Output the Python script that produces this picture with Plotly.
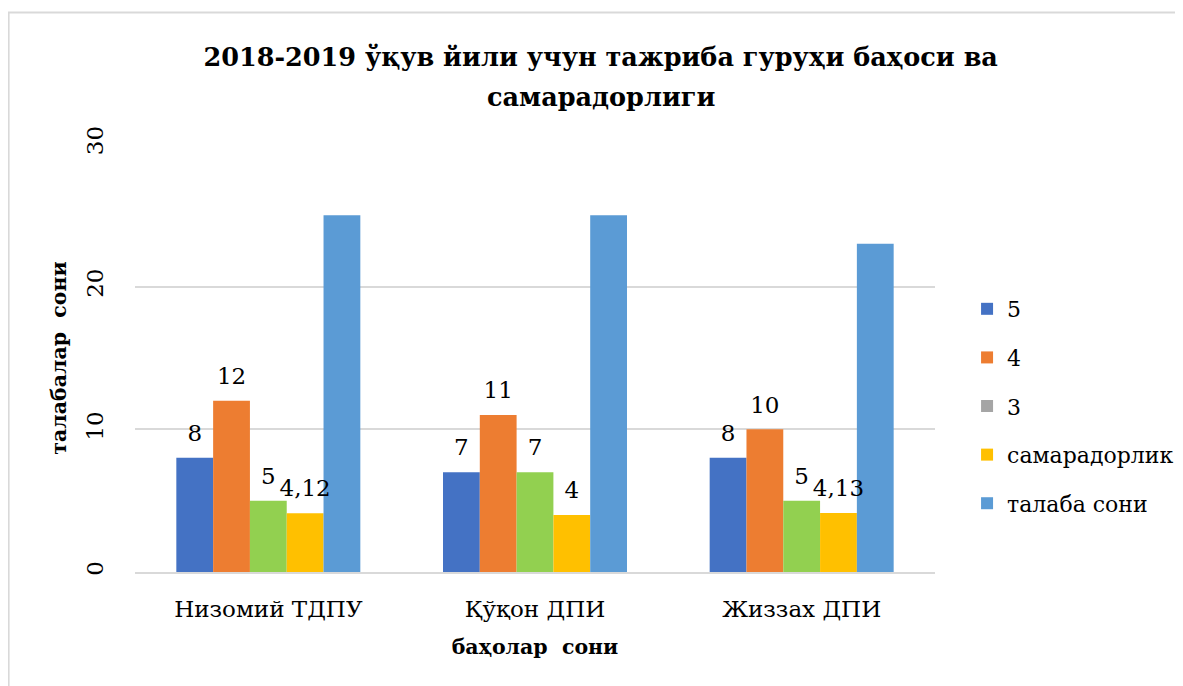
import plotly.graph_objects as go

categories = ["Низомий ТДПУ", "Қўқон ДПИ", "Жиззах ДПИ"]
series_names = ["5", "4", "3", "самарадорлик", "талаба сони"]
s5 = [8, 7, 8]
s4 = [12, 11, 10]
s3 = [5, 7, 5]
samar = [4.12, 4, 4.13]
talaba = [25, 25, 23]
y_ticks = [0, 10, 20, 30]
title_line1 = "2018-2019 ўқув йили учун тажриба гуруҳи баҳоси ва"
title_line2 = "самарадорлиги"

colors = ["#4472C4", "#ED7D31", "#92D050", "#FFC000", "#5B9BD5"]
legend3_color = "#A5A5A5"

FONT = "DejaVu Serif"

def fmt(v):
    return f"{v:g}".replace(".", ",")

fig = go.Figure()
all_series = [s5, s4, s3, samar, talaba]
for i, (name, vals) in enumerate(zip(series_names, all_series)):
    fig.add_trace(go.Bar(
        x=categories, y=vals, name=name,
        marker=dict(color=colors[i], line=dict(width=0)),
        offsetgroup=str(i),
        showlegend=(i != 2),
        legendgroup=name, legendrank=i + 1,
    ))

# data labels aligned with the bars (no labels for the last series)
for i, (name, vals) in enumerate(zip(series_names, all_series)):
    labels = [fmt(v) for v in vals] if i < 4 else ["" for _ in vals]
    fig.add_trace(go.Scatter(
        x=categories, y=vals, mode="markers+text",
        text=labels, textposition="top center",
        textfont=dict(family=FONT, size=23, color="#000000"),
        marker=dict(size=16, color="rgba(0,0,0,0)"),
        offsetgroup=str(i), showlegend=False, hoverinfo="skip",
        cliponaxis=False,
    ))

# legend entry for "3" (grey swatch in the original legend)
fig.add_trace(go.Scatter(
    x=[None], y=[None], mode="markers", name="3",
    marker=dict(symbol="square", size=12, color=legend3_color),
    legendgroup="3", legendrank=3, showlegend=True,
))

fig.update_layout(
    width=1183, height=686,
    paper_bgcolor="white", plot_bgcolor="white",
    margin=dict(l=127, r=256, t=136, b=122),
    barmode="group", bargap=0.31, bargroupgap=0,
    scattermode="group", scattergap=0.31,
    font=dict(family=FONT, size=20, color="#000000"),
    title=dict(
        text="<b>" + title_line1 + "</b>",
        xref="container", x=0.501, xanchor="center",
        yref="container", y=0.9286, yanchor="middle",
        font=dict(family=FONT, size=25.5, color="#000000"),
    ),
    annotations=[dict(
        text="<b>" + title_line2 + "</b>",
        xref="paper", x=0.5825, xanchor="center",
        yref="paper", y=1.1098, yanchor="middle",
        showarrow=False,
        font=dict(family=FONT, size=25.5, color="#000000"),
    )],
    legend=dict(
        xref="container", x=0.8107, xanchor="left",
        yref="container", y=0.4198, yanchor="middle",
        font=dict(family=FONT, size=22, color="#000000"),
        tracegroupgap=17, itemsizing="constant",
        bgcolor="rgba(0,0,0,0)",
    ),
    shapes=[dict(
        type="rect", xref="paper", yref="paper",
        x0=-0.158, x1=1.35, y0=-0.4, y1=1.307,
        line=dict(color="#D9D9D9", width=2), fillcolor="rgba(0,0,0,0)",
        layer="below",
    )],
)

fig.update_yaxes(
    range=[0, 30], tickvals=y_ticks, ticktext=[str(t) for t in y_ticks],
    tickangle=-90, showgrid=True, gridcolor="#D9D9D9", gridwidth=1.5,
    zeroline=False, showline=False, ticks="", ticklabelstandoff=26,
    tickfont=dict(family=FONT, size=23),
    title=dict(text="<b>талабалар  сони</b>", standoff=10,
               font=dict(family=FONT, size=20.5)),
)
fig.update_xaxes(
    showline=True, linecolor="#D9D9D9", linewidth=1.5,
    ticks="", ticklabelstandoff=16, showgrid=False,
    tickfont=dict(family=FONT, size=23),
    title=dict(text="<b>баҳолар  сони</b>", standoff=18,
               font=dict(family=FONT, size=20.5)),
)

fig.write_html("out.html")
